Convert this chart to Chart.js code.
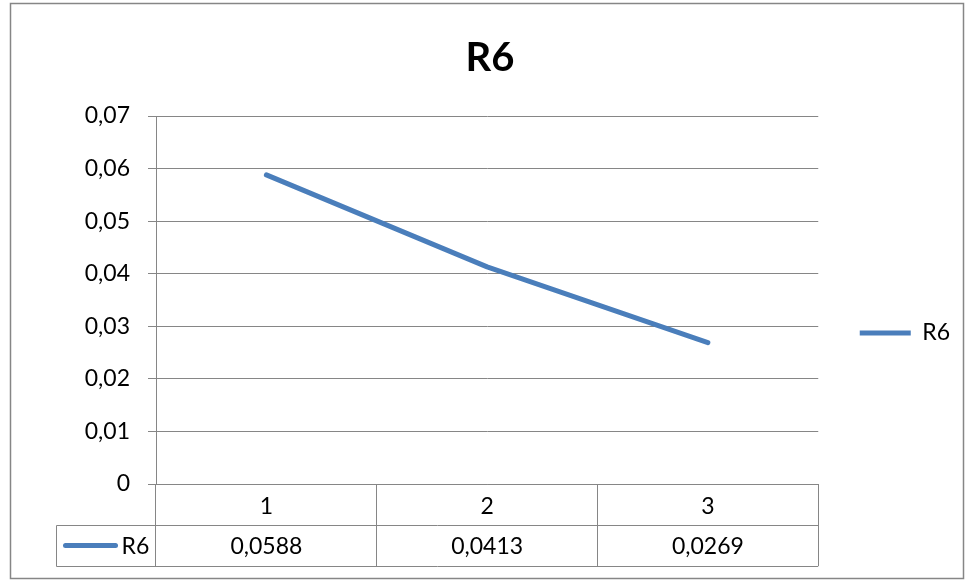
<!DOCTYPE html>
<html>
<head>
<meta charset="utf-8">
<script src="https://cdn.jsdelivr.net/npm/chart.js@4"></script>
<style>
  html, body { margin: 0; padding: 0; background: #fff; }
  canvas { display: block; }
</style>
</head>
<body>
<canvas id="chart" width="966" height="581"></canvas>
<script>
// Chart data
const categories = ['1', '2', '3'];
const seriesName = 'R6';
const seriesValues = [0.0588, 0.0413, 0.0269];
const yTickLabels = ['0', '0,01', '0,02', '0,03', '0,04', '0,05', '0,06', '0,07'];

const lineColor = '#4A7EBB';
const gridColor = '#868686';
const fontFamily = 'Lato, "Open Sans", sans-serif';
const fontSize = 23;

// Values in the table row use a decimal comma
const formatValue = v => v.toFixed(4).replace('.', ',');

// Frame around the whole chart
const framePlugin = {
  id: 'frame',
  beforeDraw(chart) {
    const { ctx, width, height } = chart;
    ctx.save();
    ctx.fillStyle = '#fff';
    ctx.fillRect(0, 0, width, height);
    ctx.strokeStyle = gridColor;
    ctx.lineWidth = 1.5;
    ctx.strokeRect(10.5, 3.5, width - 13, height - 6);
    ctx.restore();
  }
};

// Data table under the plot: legend key cell and value row
const dataTablePlugin = {
  id: 'dataTable',
  afterDraw(chart) {
    const { ctx, chartArea } = chart;
    const x = chart.scales.x;
    const rowH = x.height / 2;
    const midY = Math.round(x.top + rowH) + 0.5;
    const botY = Math.round(x.bottom) + 0.5;
    const keyLeft = Math.round(chartArea.left - 100) + 0.5;
    const right = chartArea.right;

    ctx.save();
    ctx.strokeStyle = gridColor;
    ctx.lineWidth = 1;
    ctx.beginPath();
    ctx.moveTo(keyLeft, midY); ctx.lineTo(right, midY);
    ctx.moveTo(keyLeft, botY); ctx.lineTo(right, botY);
    ctx.moveTo(keyLeft, midY); ctx.lineTo(keyLeft, botY);
    ctx.stroke();

    const rowCenter = x.top + rowH * 1.5 + 1;

    // legend key inside the table
    ctx.strokeStyle = lineColor;
    ctx.lineWidth = 5;
    ctx.lineCap = 'round';
    ctx.beginPath();
    ctx.moveTo(keyLeft + 9, rowCenter - 1);
    ctx.lineTo(keyLeft + 59, rowCenter - 1);
    ctx.stroke();

    ctx.fillStyle = '#000';
    ctx.font = fontSize + 'px ' + fontFamily;
    ctx.textBaseline = 'middle';
    ctx.textAlign = 'left';
    ctx.fillText(seriesName, keyLeft + 65, rowCenter);

    ctx.textAlign = 'center';
    seriesValues.forEach((v, i) => {
      ctx.fillText(formatValue(v), x.getPixelForValue(i), rowCenter);
    });
    ctx.restore();
  }
};

new Chart(document.getElementById('chart'), {
  type: 'line',
  data: {
    labels: categories,
    datasets: [{
      label: seriesName,
      data: seriesValues,
      borderColor: lineColor,
      backgroundColor: lineColor,
      borderWidth: 5,
      borderCapStyle: 'round',
      borderJoinStyle: 'round',
      pointRadius: 0,
      pointHoverRadius: 0,
      tension: 0,
      fill: false
    }]
  },
  options: {
    responsive: false,
    animation: false,
    devicePixelRatio: 1,
    layout: { padding: { top: 0, left: 20, right: 6, bottom: 15 } },
    plugins: {
      title: {
        display: true,
        text: seriesName,
        color: '#000',
        font: { family: fontFamily, size: 40, weight: 'bold', lineHeight: 1.2 },
        padding: { top: 34, bottom: 34 }
      },
      legend: {
        display: true,
        position: 'right',
        align: 'center',
        title: { display: true, text: '', padding: { top: 85.6, bottom: 0 } },
        labels: {
          usePointStyle: true,
          pointStyle: 'line',
          pointStyleWidth: 51,
          padding: 41.5,
          color: '#000',
          font: { family: fontFamily, size: fontSize }
        }
      },
      tooltip: { enabled: false }
    },
    scales: {
      x: {
        type: 'category',
        offset: true,
        border: { display: true, color: gridColor, width: 1 },
        grid: {
          offset: true,
          drawOnChartArea: false,
          drawTicks: true,
          tickLength: 82,
          color: gridColor,
          lineWidth: 1
        },
        ticks: {
          color: '#000',
          padding: -73.5,
          maxRotation: 0,
          font: { family: fontFamily, size: fontSize, lineHeight: 1.2 }
        },
        afterFit(scale) { scale.height = 82; }
      },
      y: {
        min: 0,
        max: 0.07,
        border: { display: true, color: gridColor, width: 1 },
        grid: {
          color: gridColor,
          lineWidth: 1,
          drawTicks: true,
          tickLength: 8
        },
        ticks: {
          stepSize: 0.01,
          color: '#000',
          padding: 18,
          font: { family: fontFamily, size: fontSize },
          callback: (value, index) => yTickLabels[index]
        },
        afterFit(scale) { scale.width = 136; }
      }
    }
  },
  plugins: [framePlugin, dataTablePlugin]
});
</script>
</body>
</html>
